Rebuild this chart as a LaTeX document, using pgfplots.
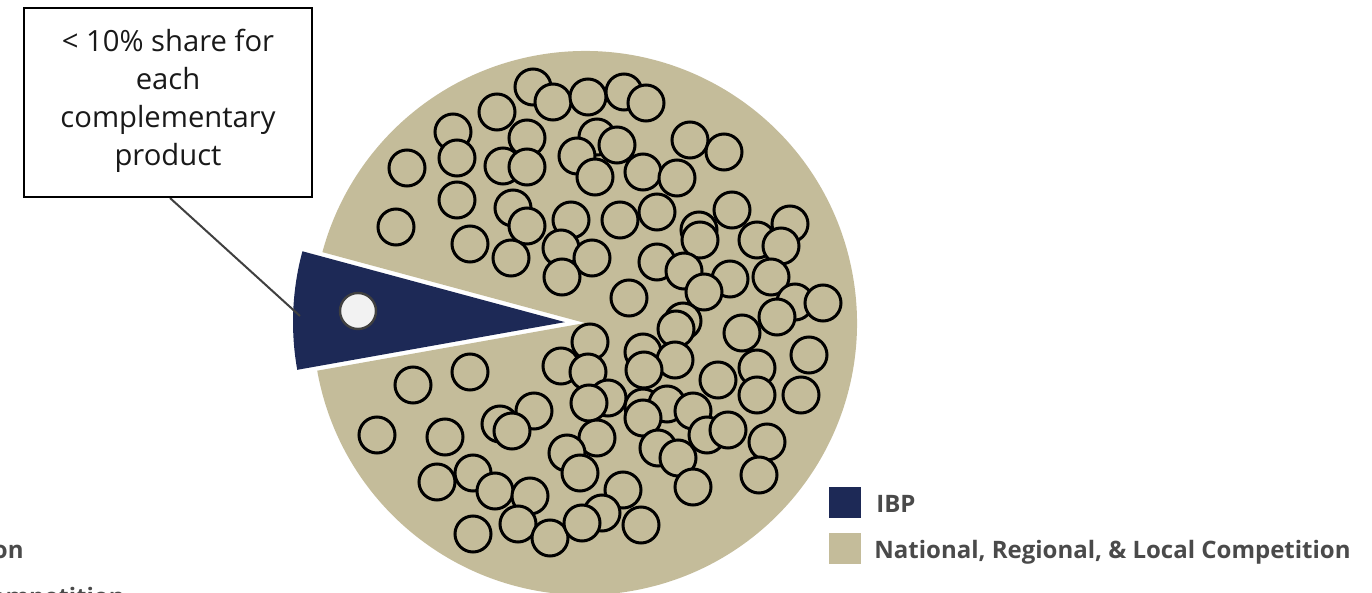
\documentclass[border=0pt]{standalone}
\usepackage{pgfplots}
\pgfplotsset{compat=1.18}
\usepackage{fontspec}
\setmainfont{Open Sans}
\definecolor{tanc}{HTML}{C4BC9A}
\definecolor{navy}{HTML}{1D2956}
\definecolor{txt}{HTML}{4A4A4A}
% shares (percent): IBP slice, rest = competition
\def\ibpshare{7}
\def\startang{164.9}
\begin{document}
\begin{tikzpicture}
\begin{axis}[name=ax, at={(0,0)}, anchor=south west, scale only axis,
  width=686pt, height=296.5pt, xmin=0, xmax=1372, ymin=0, ymax=593,
  y dir=reverse, hide axis, clip=true]
\pgfmathsetmacro{\span}{\ibpshare*3.6}
\pgfmathsetmacro{\endang}{\startang+\span}
\pgfmathsetmacro{\midang}{\startang+\span/2}
% competition slice
\fill[tanc] (axis cs:585,323) -- +(\endang:136pt) arc[start angle=\endang, end angle=\startang+360, radius=136pt] -- cycle;
% IBP slice (exploded)
\fill[navy] (axis cs:585,323) ++(\midang:10pt) -- +(\startang:136pt) arc[start angle=\startang, end angle=\endang, radius=136pt] -- cycle;
\addplot[only marks, mark=*, mark size=9pt, mark options={fill=tanc, draw=black, line width=1.5pt}] table {
x y
533 87
553 102
588 97
624 92
646 103
497 112
453 132
527 138
597 137
617 145
577 156
457 158
407 168
503 166
527 167
595 177
643 172
677 178
690 140
724 152
457 200
513 208
396 227
527 226
571 220
620 220
657 212
732 210
699 230
700 240
757 240
790 224
781 246
470 244
511 258
561 248
592 258
562 277
657 262
684 271
730 279
771 277
704 292
629 298
795 302
823 303
777 317
683 321
676 329
742 333
590 342
643 352
675 360
644 370
809 355
757 368
718 380
561 366
588 372
470 372
413 385
757 395
801 395
608 398
589 403
643 407
667 404
693 411
643 418
534 411
500 424
512 431
597 438
658 448
678 458
707 435
728 430
767 442
759 475
693 487
377 435
445 437
567 453
580 473
437 482
473 473
495 491
530 496
623 490
602 513
518 524
473 534
550 538
582 523
641 525
};
\addplot[only marks, mark=*, mark size=9pt, mark options={fill=white!95!black, draw=black!75, line width=1.2pt}] coordinates {(358,311)};
% callout
\draw[black!75, line width=1pt] (axis cs:170,198) -- (axis cs:300,316);
\draw[black, line width=1.4pt, fill=white] (axis cs:24,8) rectangle (axis cs:312,197);
\node[align=center, text=black!90, font=\fontsize{14.6}{19}\selectfont] at (axis cs:168,101) {< 10\% share for\\each\\complementary\\product};
% legend
\fill[navy] (axis cs:829,487) rectangle (axis cs:861,518);
\fill[tanc] (axis cs:829,533) rectangle (axis cs:861,564);
\node[anchor=base west, inner sep=0pt, text=txt, font=\fontsize{12}{14}\selectfont\bfseries] at (axis cs:876,512) {IBP};
\node[anchor=base west, inner sep=0pt, text=txt, font=\fontsize{12}{14}\selectfont\bfseries] at (axis cs:874,558) {National, Regional, \& Local Competition};
% cut-off remnant of another legend
\node[anchor=base east, inner sep=0pt, text=txt, font=\fontsize{12}{14}\selectfont\bfseries] at (axis cs:24,558) {Competition};
\node[anchor=base east, inner sep=0pt, text=txt, font=\fontsize{12}{14}\selectfont\bfseries] at (axis cs:125,605) {Local Competition};
\end{axis}
\pgfresetboundingbox
\path (ax.south west) rectangle (ax.north east);
\end{tikzpicture}
\end{document}
